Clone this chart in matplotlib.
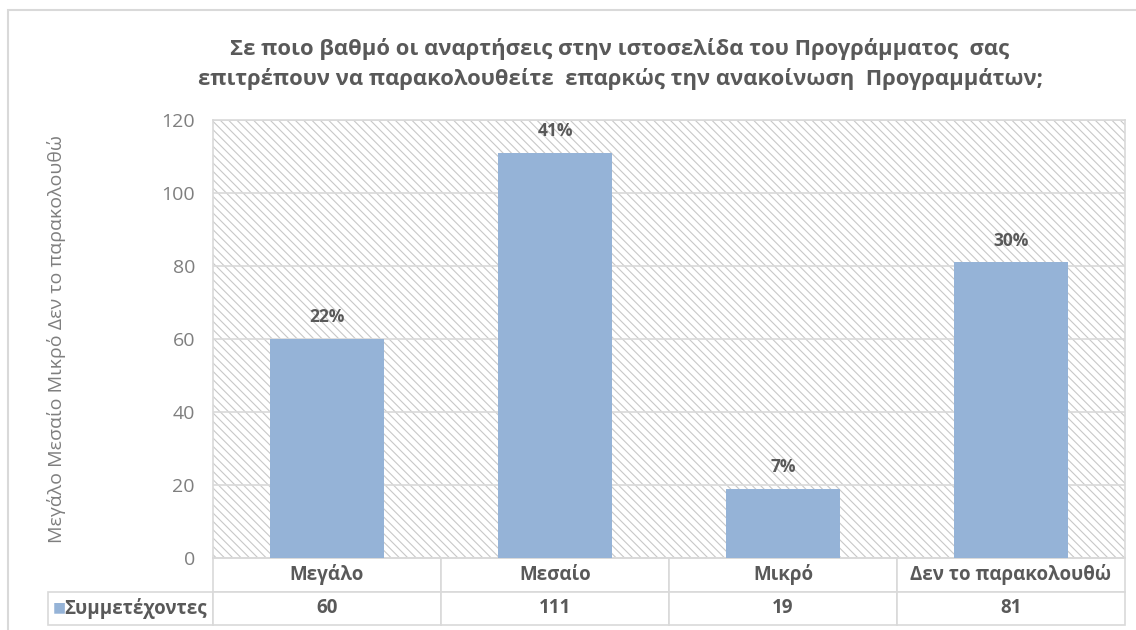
import matplotlib.pyplot as plt
from matplotlib.patches import Rectangle

plt.rcParams['font.family'] = ['Open Sans', 'DejaVu Sans']
plt.rcParams['hatch.linewidth'] = 0.8

# Στοιχεία ερώτησης
title = ("Σε ποιο βαθμό οι αναρτήσεις στην ιστοσελίδα του Προγράμματος  σας\n"
         "επιτρέπουν να παρακολουθείτε  επαρκώς την ανακοίνωση  Προγραμμάτων;")
categories = ["Μεγάλο", "Μεσαίο", "Μικρό", "Δεν το παρακολουθώ"]
counts = [60, 111, 19, 81]
series_name = "Συμμετέχοντες"
yticks = [0, 20, 40, 60, 80, 100, 120]

BAR = "#95b3d7"
GRID = "#d9d9d9"
DARK = "#595959"
LIGHT = "#7f7f7f"

total = sum(counts)
pcts = [round(100 * c / total) for c in counts]

fig = plt.figure(figsize=(11.36, 6.30), dpi=100)
ax = fig.add_axes([213 / 1136, 1 - 558 / 630, 912 / 1136, 438 / 630])

# πλαίσιο γραφήματος
fig.patches.append(Rectangle((8 / 1136, -0.1), 1.2, 1 - 10 / 630 + 0.1,
                             transform=fig.transFigure, fill=False,
                             edgecolor=GRID, lw=1.5))

# διαγράμμιση στο φόντο
ax.set_facecolor("white")
ax.add_patch(Rectangle((0, 0), 1, 1, transform=ax.transAxes, facecolor="white",
                       edgecolor="#c8c8c8", hatch="\\\\\\\\", lw=0, zorder=0))

x = list(range(len(categories)))
ax.bar(x, counts, width=0.5, color=BAR, zorder=3)
for xi, c, p in zip(x, counts, pcts):
    ax.annotate(f"{p}%", (xi, c), xytext=(0, 15.5), textcoords="offset points",
                ha="center", va="center", fontsize=12.5, fontweight="bold", color=DARK, zorder=4)

ax.set_xlim(-0.5, len(categories) - 0.5)
ax.set_ylim(0, 120)
ax.set_yticks(yticks)
ax.set_xticks([])
ax.tick_params(axis="y", length=0, pad=13, labelsize=14, labelcolor=LIGHT)
ax.yaxis.grid(True, color=GRID, lw=1.2, zorder=1)
ax.set_axisbelow(True)
for s in ax.spines.values():
    s.set_color(GRID)
    s.set_linewidth(1.2)

ax.set_ylabel(" ".join(categories), fontsize=14, color=LIGHT)
ax.yaxis.set_label_coords(-0.161, 0.5)

fig.text(620 / 1136, 1 - 64 / 630, title, ha="center", va="center", fontsize=15.8,
         fontweight="bold", color=DARK, linespacing=1.45)

# πίνακας δεδομένων κάτω από τις στήλες
tbl = ax.table(cellText=[[str(c) for c in counts]], rowLabels=[series_name],
               colLabels=categories, cellLoc="center", rowLoc="right",
               colWidths=[0.25] * 4, bbox=[0, -0.153, 1, 0.153])
tbl._autoColumns = []
tbl.auto_set_font_size(False)
for (r, c), cell in tbl.get_celld().items():
    if c == -1:
        cell.set_width(0.181)
    cell.set_edgecolor(GRID)
    cell.set_linewidth(1.2)
    cell.PAD = 0.04
    cell.get_text().set_fontsize(13.5)
    cell.get_text().set_fontweight("bold")
    cell.get_text().set_color(DARK)
ax.text(-0.169, -0.112, "■", transform=ax.transAxes, ha="center", va="center",
        fontsize=10, color=BAR, family="DejaVu Sans")

fig.savefig("out.png", dpi=100)
